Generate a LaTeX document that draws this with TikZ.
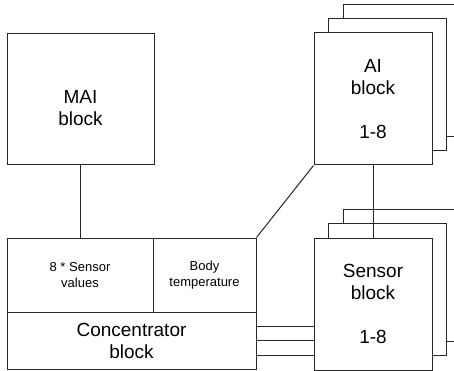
\documentclass[tikz,border=0pt]{standalone}
\usepackage{fontspec}
\setmainfont{Liberation Sans}
\begin{document}
\begin{tikzpicture}[x=1pt,y=-1pt,line width=1pt,
  blk/.style={draw=black!85,fill=white,inner sep=0pt,align=center,font=\fontsize{19}{22}\selectfont},
  small/.style={font=\fontsize{13}{15.5}\selectfont},
  stack/.style={blk,minimum width=118pt,minimum height=132pt},
  conn/.style={draw=black!85}]
\useasboundingbox (0,0) rectangle (454,371);
\clip (0,0) rectangle (454,371);
% MAI block
\node[blk,minimum width=147pt,minimum height=131pt] (mai) at (80.5,99.5) {};
\node[align=center,font=\fontsize{19}{22}\selectfont] (mailbl) at ([yshift=-9pt]mai.center) {MAI\\block};
% AI and sensor stacks, back copies first
\foreach \k in {2,1} {
  \node[stack] (ai\k) at ({373+14.5*\k},{99-14*\k}) {};
  \node[stack] (sen\k) at ({373+14.5*\k},{304-14.5*\k}) {};
}
\node[stack] (ai) at (373,99) {AI\\block\\[22pt]1-8};
\node[stack] (sen) at (373,304) {Sensor\\block\\[22pt]1-8};
% concentrator
\node[blk,small,minimum width=146pt,minimum height=74pt] (sv) at (80,275) {8 * Sensor\\values};
\node[blk,small,minimum width=103pt,minimum height=74pt] (bt) at (204.5,275) {Body\\temperature};
\node[blk,minimum width=249pt,minimum height=57pt] (conc) at (131.5,340.5) {Concentrator\\block};
% links
\draw[conn] (mai.south) -- (mai.south |- sv.north);
\draw[conn] (bt.north east) -- (ai.south west);
\draw[conn] (ai) -- (sen);
\foreach \d in {14.5,0,-14.5} \draw[conn] ([yshift=\d pt]conc.east) coordinate (p) -- (p -| sen.west);
\end{tikzpicture}
\end{document}
